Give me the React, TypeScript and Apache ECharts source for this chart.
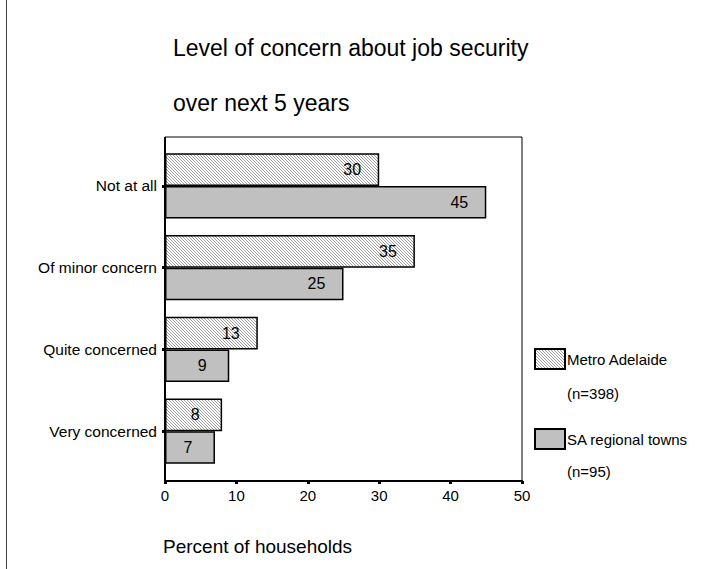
import React, { useEffect, useRef } from "react";
import * as echarts from "echarts";

const categories = ["Not at all", "Of minor concern", "Quite concerned", "Very concerned"];
const seriesNames = ["Metro Adelaide", "SA regional towns"];
const sampleSizes = [398, 95];
const metroValues = [30, 35, 13, 8];
const regionalValues = [45, 25, 9, 7];
const xMin = 0;
const xMax = 50;
const xStep = 10;

const FONT = "'Liberation Sans', Arial, sans-serif";

// Fine diagonal hatch used for the Metro Adelaide bars
function makeHatch(): HTMLCanvasElement {
  const c = document.createElement("canvas");
  c.width = 3;
  c.height = 3;
  const ctx = c.getContext("2d")!;
  ctx.fillStyle = "#ffffff";
  ctx.fillRect(0, 0, 3, 3);
  ctx.fillStyle = "#a0a0a0";
  for (let i = 0; i < 3; i++) ctx.fillRect(i, i, 1, 1);
  return c;
}

export default function App() {
  const ref = useRef<HTMLDivElement>(null);

  useEffect(() => {
    if (!ref.current) return;
    const chart = echarts.init(ref.current, undefined, { renderer: "svg" });
    const hatch = { image: makeHatch(), repeat: "repeat" };

    const frame = { left: 165, top: 137, right: 522, bottom: 481 };

    const barLabel = {
      show: true,
      position: ["100%", "50%"],
      offset: [-27, 0],
      align: "center",
      verticalAlign: "middle",
      color: "#000",
      fontSize: 16,
      fontFamily: FONT,
    };

    chart.setOption({
      animation: false,
      backgroundColor: "#ffffff",
      title: {
        text: "Level of concern about job security\nover next 5 years",
        left: 173,
        top: 20,
        padding: 0,
        textStyle: {
          fontFamily: FONT,
          fontWeight: "normal",
          fontSize: 23,
          lineHeight: 55,
          color: "#000",
        },
      },
      legend: {
        orient: "vertical",
        left: 534,
        top: 348,
        itemWidth: 30,
        itemHeight: 20,
        itemGap: 58,
        padding: 0,
        icon: "rect",
        data: seriesNames,
        textStyle: { fontFamily: FONT, fontSize: 15, color: "#000", padding: [0, 0, 0, -3] },
      },
      grid: {
        left: frame.left,
        right: 707 - frame.right,
        top: 145,
        height: 327,
        containLabel: false,
      },
      xAxis: {
        type: "value",
        min: xMin,
        max: xMax,
        interval: xStep,
        offset: 9,
        axisLine: { show: true, lineStyle: { color: "#000", width: 2 } },
        axisTick: { show: true, length: 3, lineStyle: { color: "#000", width: 3 } },
        axisLabel: { color: "#000", fontSize: 15, fontFamily: FONT, margin: 7 },
        splitLine: { show: false },
      },
      yAxis: {
        type: "category",
        data: categories,
        inverse: true,
        axisLine: { show: false },
        axisTick: { show: true, alignWithLabel: true, length: 3, lineStyle: { color: "#000", width: 3 } },
        axisLabel: { color: "#000", fontSize: 15.5, fontFamily: FONT, margin: 8 },
      },
      series: [
        {
          name: seriesNames[0],
          type: "bar",
          data: metroValues,
          barGap: "0%",
          barCategoryGap: "20%",
          itemStyle: { color: hatch, borderColor: "#000", borderWidth: 1.5 },
          label: barLabel,
        },
        {
          name: seriesNames[1],
          type: "bar",
          data: regionalValues,
          barGap: "0%",
          barCategoryGap: "20%",
          itemStyle: { color: "#c0c0c0", borderColor: "#000", borderWidth: 1.5 },
          label: barLabel,
        },
      ],
      graphic: [
        {
          type: "line",
          shape: { x1: 6.5, y1: 0, x2: 6.5, y2: 569 },
          style: { stroke: "#444", lineWidth: 1 },
        },
        {
          type: "rect",
          shape: {
            x: frame.left,
            y: frame.top,
            width: frame.right - frame.left,
            height: frame.bottom - frame.top,
          },
          style: { fill: "none", stroke: "#000", lineWidth: 1 },
          z: 10,
        },
        {
          type: "line",
          shape: { x1: frame.left, y1: frame.top, x2: frame.left, y2: frame.bottom },
          style: { stroke: "#000", lineWidth: 2 },
          z: 10,
        },
        {
          type: "text",
          left: 163,
          top: 537,
          style: {
            text: "Percent of households",
            fontFamily: FONT,
            fontSize: 19,
            fill: "#000",
          },
        },
        ...sampleSizes.map((n, i) => ({
          type: "text",
          left: 567,
          top: 386 + i * 78,
          style: {
            text: `(n=${n})`,
            fontFamily: FONT,
            fontSize: 15,
            fill: "#000",
          },
        })),
      ],
    });

    return () => chart.dispose();
  }, []);

  return (
    <div
      ref={ref}
      style={{ position: "fixed", left: 0, top: 0, width: 707, height: 569 }}
    />
  );
}
